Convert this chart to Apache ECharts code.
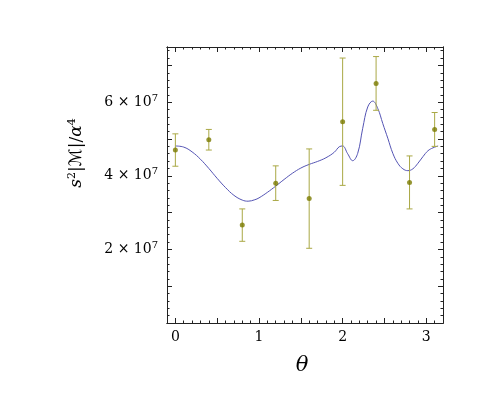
<!DOCTYPE html>
<html>
<head>
<meta charset="utf-8">
<script src="https://cdn.jsdelivr.net/npm/echarts@6/dist/echarts.min.js"></script>
<style>
  html, body { margin: 0; padding: 0; background: #fff; }
  #chart { width: 491px; height: 420px; }
</style>
</head>
<body>
<div id="chart"></div>
<script>
// measured points with error bars
const pointTheta = [0, 0.4, 0.8, 1.2, 1.6, 2.0, 2.4, 2.8, 3.1];
const pointValue = [4.70e7, 4.98e7, 2.66e7, 3.80e7, 3.38e7, 5.47e7, 6.51e7, 3.82e7, 5.26e7];
const pointError = [0.44e7, 0.28e7, 0.44e7, 0.47e7, 1.35e7, 1.73e7, 0.73e7, 0.72e7, 0.46e7];

// model curve
const curveTheta = [0, 0.1, 0.2, 0.3, 0.4, 0.5, 0.6, 0.7, 0.8, 0.87, 0.95, 1.0, 1.1, 1.2, 1.3, 1.4,
  1.5, 1.6, 1.7, 1.8, 1.9, 1.96, 2.0, 2.06, 2.12, 2.18, 2.24, 2.30, 2.36, 2.42, 2.48, 2.54,
  2.60, 2.66, 2.72, 2.78, 2.84, 2.90, 2.96, 3.02, 3.08, 3.1416];
const curveValue = [4.81, 4.78, 4.65, 4.45, 4.20, 3.93, 3.68, 3.47, 3.34, 3.31, 3.35, 3.40, 3.55, 3.72, 3.90, 4.07,
  4.21, 4.31, 4.39, 4.49, 4.64, 4.79, 4.81, 4.60, 4.41, 4.61, 5.29, 5.87, 6.03, 5.83, 5.42, 5.02,
  4.61, 4.34, 4.19, 4.14, 4.19, 4.34, 4.52, 4.68, 4.76, 4.81].map(v => v * 1e7);

// ticks
const xMajorTicks = [0, 0.5, 1, 1.5, 2, 2.5, 3];
const xLabelTicks = [0, 1, 2, 3];
const yMajorTicks = [1e7, 2e7, 3e7, 4e7, 5e7, 6e7, 7e7];
const yLabelTicks = [2e7, 4e7, 6e7];

const xMinorTicks = [];
for (let i = -1; i <= 32; i++) {
  if (i % 5 !== 0) xMinorTicks.push(i / 10);
}
const yMinorTicks = [];
for (let i = 1; i <= 37; i++) {
  if (i % 5 !== 0) yMinorTicks.push(i * 2e6);
}

const FONT = "DejaVu Serif";
const lineCol = "#222";

const chart = echarts.init(document.getElementById("chart"));

function xAx(position, ticks, len, labels) {
  return {
    type: "value",
    position: position,
    min: -0.1,
    max: 3.2,
    axisLine: { show: true, onZero: false, lineStyle: { color: lineCol, width: 1 } },
    axisTick: { show: true, inside: true, length: len, customValues: ticks, lineStyle: { color: lineCol } },
    axisLabel: labels ? {
      show: true, customValues: xLabelTicks, margin: 7,
      fontFamily: FONT, fontSize: 14, color: "#000",
      formatter: (v) => String(Math.round(v))
    } : { show: false },
    splitLine: { show: false }
  };
}

function yAx(position, ticks, len, labels) {
  return {
    type: "value",
    position: position,
    min: 0,
    max: 7.5e7,
    axisLine: { show: true, onZero: false, lineStyle: { color: lineCol, width: 1 } },
    axisTick: { show: true, inside: true, length: len, customValues: ticks, lineStyle: { color: lineCol } },
    axisLabel: labels ? {
      show: true, customValues: yLabelTicks, margin: 9,
      formatter: (v) => "{a|" + Math.round(v / 1e7) + " × 10}{s|7}",
      rich: {
        a: { fontFamily: FONT, fontSize: 14, color: "#000" },
        s: { fontFamily: FONT, fontSize: 10, color: "#000", verticalAlign: "top", padding: [0, 0, 8, 0] }
      }
    } : { show: false },
    splitLine: { show: false }
  };
}

const errData = pointTheta.map((t, i) => [t, pointValue[i] - pointError[i], pointValue[i] + pointError[i]]);

const option = {
  backgroundColor: "#fff",
  animation: false,
  grid: { left: 167, top: 47, right: 48, bottom: 97 },
  xAxis: [
    xAx("bottom", xMajorTicks, 5, true),
    xAx("bottom", xMinorTicks, 2.5, false),
    xAx("top", xMajorTicks, 5, false),
    xAx("top", xMinorTicks, 2.5, false)
  ],
  yAxis: [
    yAx("left", yMajorTicks, 5, true),
    yAx("left", yMinorTicks, 2.5, false),
    yAx("right", yMajorTicks, 5, false),
    yAx("right", yMinorTicks, 2.5, false)
  ],
  graphic: [
    {
      type: "text",
      x: 302, y: 366,
      style: {
        text: "θ", fontFamily: FONT, fontStyle: "italic", fontSize: 21,
        fill: "#000", align: "center", verticalAlign: "middle"
      }
    },
    {
      type: "text",
      x: 77, y: 153,
      rotation: Math.PI / 2,
      style: {
        text: "{i|s}{s|2}{n||}{c|ℳ}{n||/}{i|α}{s|4}",
        align: "center", verticalAlign: "middle",
        rich: {
          i: { fontFamily: FONT, fontStyle: "italic", fontSize: 17, fill: "#000" },
          n: { fontFamily: FONT, fontSize: 17, fill: "#000" },
          c: { fontFamily: "DejaVu Sans", fontSize: 17, fill: "#000" },
          s: { fontFamily: FONT, fontSize: 11, fill: "#000", verticalAlign: "top", padding: [0, 0, 9, 0] }
        }
      }
    }
  ],
  series: [
    {
      type: "line",
      data: curveTheta.map((t, i) => [t, curveValue[i]]),
      smooth: 0.4,
      symbol: "none",
      lineStyle: { color: "#5454b4", width: 1 },
      z: 2
    },
    {
      type: "custom",
      data: errData,
      renderItem: (params, api) => {
        const x = api.value(0);
        const lo = api.coord([x, api.value(1)]);
        const hi = api.coord([x, api.value(2)]);
        const cap = 3;
        const style = { stroke: "#aaa845", lineWidth: 1 };
        return {
          type: "group",
          children: [
            { type: "line", shape: { x1: lo[0], y1: lo[1], x2: hi[0], y2: hi[1] }, style: style },
            { type: "line", shape: { x1: lo[0] - cap, y1: lo[1], x2: lo[0] + cap, y2: lo[1] }, style: style },
            { type: "line", shape: { x1: hi[0] - cap, y1: hi[1], x2: hi[0] + cap, y2: hi[1] }, style: style }
          ]
        };
      },
      z: 3
    },
    {
      type: "scatter",
      data: pointTheta.map((t, i) => [t, pointValue[i]]),
      symbol: "circle",
      symbolSize: 5,
      itemStyle: { color: "#7a7a00" },
      z: 4
    }
  ]
};

chart.setOption(option);
</script>
</body>
</html>
